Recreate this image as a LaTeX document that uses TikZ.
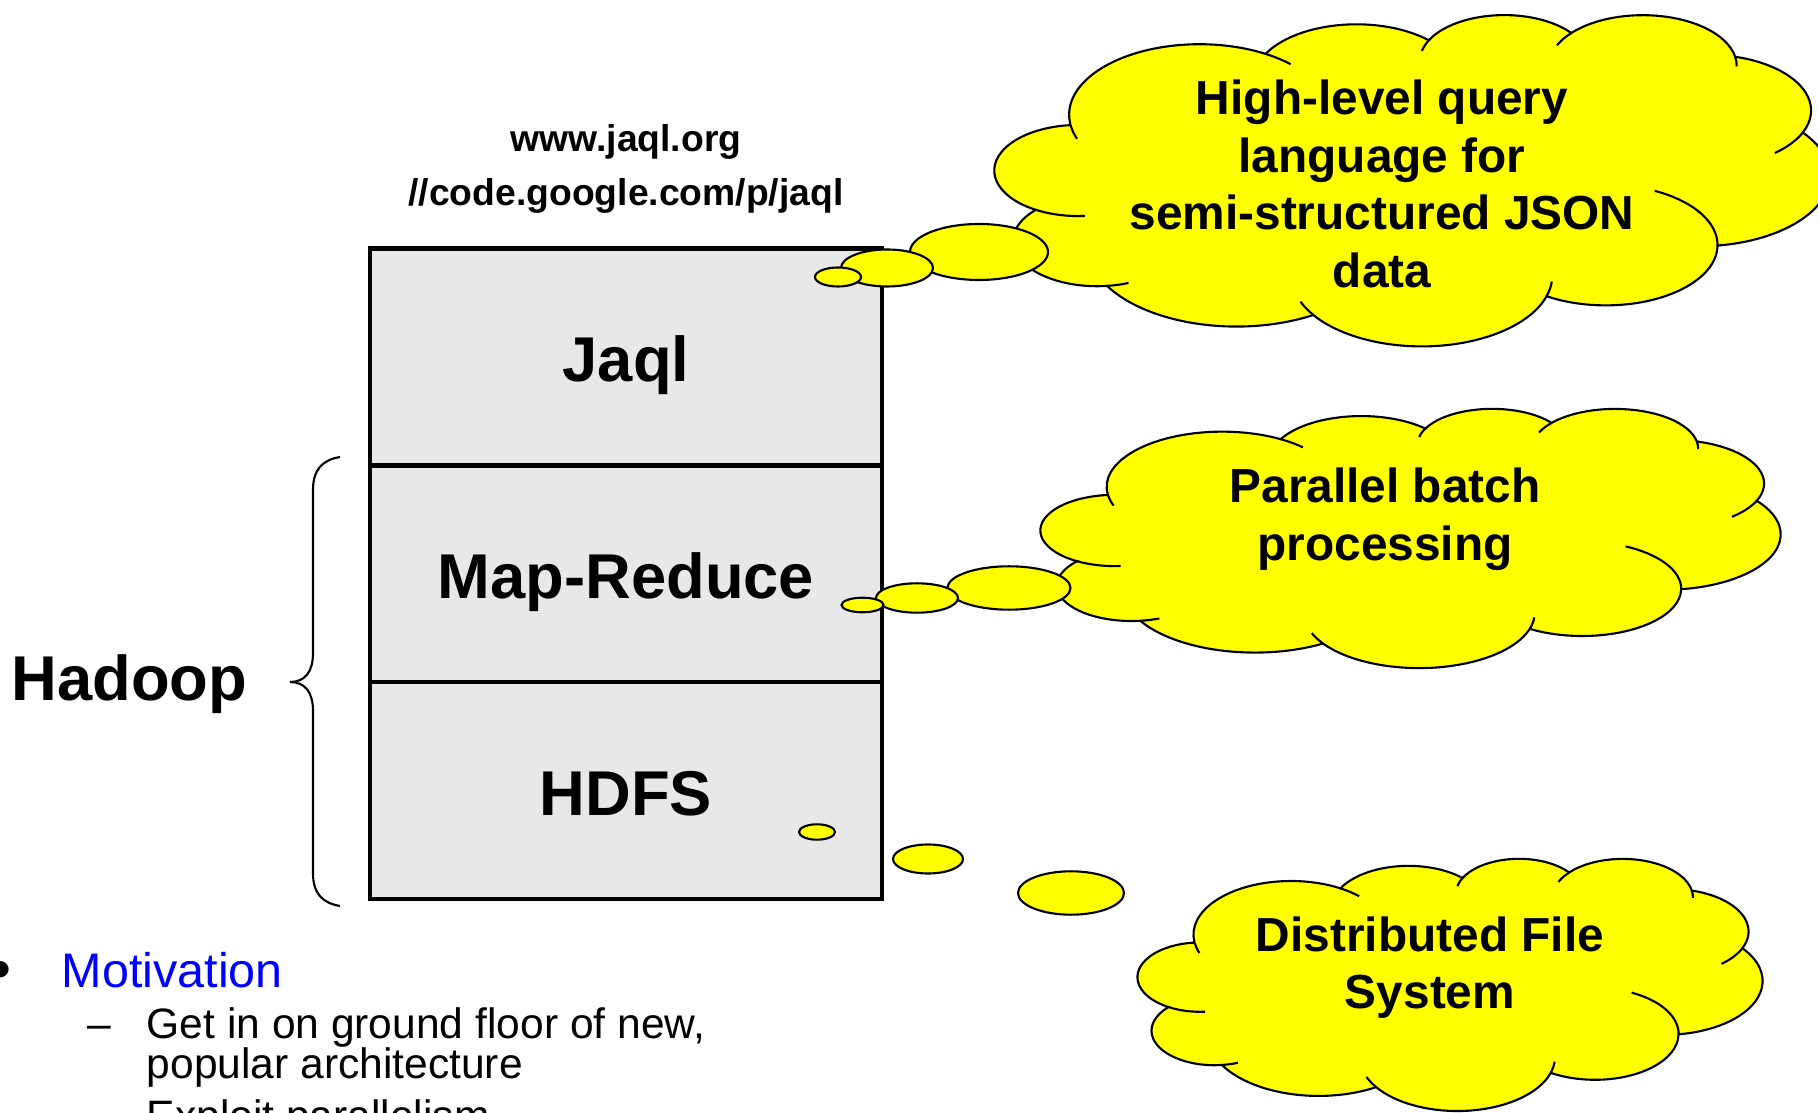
\documentclass[tikz,border=0pt]{standalone}
\usepackage{fontspec}
\setmainfont{Liberation Sans}
\usetikzlibrary{positioning}

\definecolor{boxgray}{RGB}{232,232,232}
\definecolor{cloudyellow}{RGB}{255,255,0}
\definecolor{motblue}{RGB}{0,0,255}

\tikzset{
  layer/.style={draw, line width=1.2pt, fill=boxgray, minimum width=5.12cm, minimum height=2.1667cm,
    inner sep=0pt, outer sep=0pt, font=\fontsize{18}{20}\selectfont\bfseries, text height=14.2pt, text depth=0pt},
  urltext/.style={align=center, inner sep=0pt, font=\fontsize{10.6}{15.1}\selectfont\bfseries},
  hadooptext/.style={inner sep=0pt, font=\fontsize{18}{20}\selectfont\bfseries},
  brace/.style={line width=0.6pt},
  cloudbody/.style={draw, fill=cloudyellow, line width=0.6pt},
  cloudline/.style={line width=0.6pt},
  bubble/.style={draw, fill=cloudyellow, line width=0.6pt},
  cloudtext/.style={align=center, inner sep=0pt, font=\fontsize{13.6}{16.4}\selectfont\bfseries},
  bullettext/.style={inner sep=0pt, font=\fontsize{13.8}{16}\selectfont},
  subtext/.style={inner sep=0pt, anchor=base west, font=\fontsize{12.1}{14}\selectfont}
}

% cloud outline: top left corner, width, height (pixels)
\newcommand{\thoughtcloud}[4]{%
  \begin{scope}[shift={(#1,#2)}, x={({#3/4320*1cm},0)}, y={(0,{-#4/4320*1cm})}]
    \filldraw[cloudbody] (3.9,14.37)
      arc[start angle=-187.745, end angle=-59.63, x radius=6.753, y radius=9.19]
      arc[start angle=-152.02, end angle=-45.445, x radius=5.333, y radius=7.267]
      arc[start angle=-153.49, end angle=-37.32, x radius=4.365, y radius=5.945]
      arc[start angle=-139.69, end angle=-10.21, x radius=4.857, y radius=6.595]
      arc[start angle=-74.77, end angle=23.21, x radius=5.333, y radius=7.273]
      arc[start angle=-37.52, end angle=81.86, x radius=6.775, y radius=9.22]
      arc[start angle=0.46, end angle=121.98, x radius=5.785, y radius=7.867]
      arc[start angle=16.84, end angle=146.25, x radius=6.752, y radius=9.215]
      arc[start angle=58.98, end angle=150.2, x radius=7.72, y radius=10.543]
      arc[start angle=-276.69, end angle=-136.88, x radius=4.36, y radius=5.918]
      arc[start angle=-239.65, end angle=-95.89, x radius=4.345, y radius=5.945]
      -- cycle;
    % inner folds
    \draw[cloudline] (4.31,20.416) ++(85.55:4.345 and 5.945) arc[start angle=85.55, end angle=120.35, x radius=4.345, y radius=5.945];
    \draw[cloudline] (5.296,29.592) ++(68.23:4.36 and 5.918) arc[start angle=68.23, end angle=83.31, x radius=4.36, y radius=5.918];
    \draw[cloudline] (22.095,34.146) ++(146.25:6.752 and 9.215) arc[start angle=146.25, end angle=158.47, x radius=6.752, y radius=9.215];
    \draw[cloudline] (22.095,34.146) ++(4.74:6.752 and 9.215) arc[start angle=4.74, end angle=16.84, x radius=6.752, y radius=9.215];
    \draw[cloudline] (31.621,30.143) ++(-64.03:5.785 and 7.867) arc[start angle=-64.03, end angle=0.46, x radius=5.785, y radius=7.867];
    \draw[cloudline] (36.918,12.596) ++(23.21:5.333 and 7.273) arc[start angle=23.21, end angle=49.64, x radius=5.333, y radius=7.273];
    \draw[cloudline] (33.539,6.747) ++(-10.21:4.857 and 6.595) arc[start angle=-10.21, end angle=0.82, x radius=4.857, y radius=6.595];
    \draw[cloudline] (33.539,6.747) ++(-156.28:4.857 and 6.595) arc[start angle=-156.28, end angle=-139.69, x radius=4.857, y radius=6.595];
    \draw[cloudline] (26.363,6.088) ++(-167.73:4.365 and 5.945) arc[start angle=-167.73, end angle=-151.9, x radius=4.365, y radius=5.945];
    \draw[cloudline] (10.591,13.132) ++(-59.63:6.753 and 9.19) arc[start angle=-59.63, end angle=-45.73, x radius=6.753, y radius=9.19];
    \draw[cloudline] (10.591,13.132) ++(160.02:6.753 and 9.19) arc[start angle=160.02, end angle=171.39, x radius=6.753, y radius=9.19];
  \end{scope}}

\begin{document}
\begin{tikzpicture}[x=0.01cm, y=-0.01cm]
\useasboundingbox (0,0) rectangle (1818,1113);
\clip (0,0) rectangle (1818,1113);
\fill[white] (0,0) rectangle (1818,1113);

% the stack
\node[layer] (jaql) at (626,357) {Jaql};
\node[layer, below=0pt of jaql] (mapred) {Map-Reduce};
\node[layer, below=0pt of mapred] (hdfs) {HDFS};

\node[urltext] (url) at (626,169) {www.jaql.org\\//code.google.com/p/jaql};

% Hadoop brace
\draw[brace] (340,457) .. controls (322,460) and (313,470) .. (313,490) -- (313,653)
  .. controls (313,672) and (305,682) .. (290,682)
  .. controls (305,682) and (313,692) .. (313,711) -- (313,873)
  .. controls (313,893) and (322,903) .. (340,906);
\node[hadooptext, anchor=base] (hadoop) at (129.5,701) {Hadoop};

% top cloud
\thoughtcloud{995}{14}{834}{331}
\draw[bubble] (979,252) ellipse [x radius=69, y radius=28];
\draw[bubble] (887,268) ellipse [x radius=46, y radius=18.5];
\draw[bubble] (838,277) ellipse [x radius=23, y radius=9.5];
\node[cloudtext] (query) at (1382,184) {High-level query\\language for\\semi-structured JSON\\data};

% middle cloud
\thoughtcloud{1041}{408}{739}{259}
\draw[bubble] (1009,588) ellipse [x radius=61.5, y radius=21.7];
\draw[bubble] (917,598) ellipse [x radius=41, y radius=14.7];
\draw[bubble] (862.5,605) ellipse [x radius=21, y radius=7.3];
\node[cloudtext] (batch) at (1385,519.5) {Parallel batch\\processing};

% bottom cloud
\thoughtcloud{1138}{858}{624}{252}
\draw[bubble] (817,832) ellipse [x radius=18, y radius=7.7];
\draw[bubble] (928,859) ellipse [x radius=35, y radius=14.5];
\draw[bubble] (1071,893) ellipse [x radius=53, y radius=21.7];
\node[cloudtext] (dfs) at (1430,967.5) {Distributed File\\System};

% bullets
\node[bullettext, anchor=base, font=\fontsize{17}{18}\selectfont] (dot) at (1,989) {•};
\node[bullettext, anchor=base west, text=motblue] (motiv) at (61,987) {Motivation};
\node[subtext] (dash) at (87,1038) {–};
\node[subtext] (line1) at (146,1038) {Get in on ground floor of new,};
\node[subtext] (line2) at (146,1078) {popular architecture};
\node[subtext] (line3) at (146,1130) {Exploit parallelism};
\end{tikzpicture}
\end{document}
